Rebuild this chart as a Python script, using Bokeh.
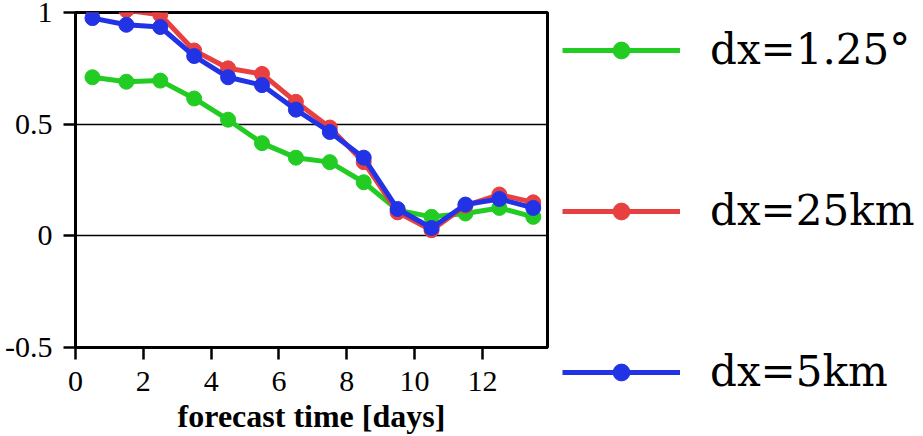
from bokeh.plotting import figure
from bokeh.layouts import row
from bokeh.models import Legend, LegendItem, FixedTicker, Range1d
from bokeh.embed import file_html
from bokeh.resources import INLINE

# data
days = [0.5, 1.5, 2.5, 3.5, 4.5, 5.5, 6.5, 7.5, 8.5, 9.5, 10.5, 11.5, 12.5, 13.5]
dx_125deg = [0.71, 0.69, 0.695, 0.615, 0.52, 0.415, 0.35, 0.33, 0.24, 0.115, 0.085, 0.10, 0.125, 0.085]
dx_25km = [1.02, 1.01, 0.99, 0.83, 0.75, 0.725, 0.60, 0.485, 0.33, 0.105, 0.025, 0.135, 0.185, 0.15]
dx_5km = [0.975, 0.945, 0.935, 0.805, 0.71, 0.675, 0.565, 0.465, 0.35, 0.12, 0.035, 0.14, 0.165, 0.125]
labels = ["dx=1.25°", "dx=25km", "dx=5km"]
colors = ["#22cc22", "#e84040", "#2233e6"]
x_ticks = [0, 2, 4, 6, 8, 10, 12]
y_ticks = [-0.5, 0, 0.5, 1]
y_tick_labels = {-0.5: "-0.5", 0: "0", 0.5: "0.5", 1: "1"}

p = figure(width=550, height=436, output_backend="svg", toolbar_location=None,
           x_range=Range1d(0, 13.92), y_range=Range1d(-0.5, 1.0),
           min_border_left=75, min_border_right=3, min_border_top=12, min_border_bottom=88)
p.frame_align = False

p.outline_line_color = "black"
p.outline_line_width = 3
p.background_fill_color = "white"
p.border_fill_color = "white"

p.xgrid.visible = False
p.ygrid.ticker = FixedTicker(ticks=[0, 0.5])
p.ygrid.grid_line_color = "black"
p.ygrid.grid_line_width = 1.5

font = "Liberation Serif"
for ax in (p.xaxis[0], p.yaxis[0]):
    ax.axis_line_width = 3
    ax.axis_line_color = "black"
    ax.major_tick_line_width = 2.5
    ax.major_tick_line_color = "black"
    ax.major_tick_out = 12
    ax.major_tick_in = 0
    ax.minor_tick_out = 0
    ax.minor_tick_in = 0
    ax.major_label_text_font = font
    ax.major_label_text_font_size = "30px"
    ax.major_label_text_color = "black"

p.xaxis.major_label_standoff = 12
p.yaxis.major_label_standoff = 11
p.xaxis.ticker = FixedTicker(ticks=x_ticks)
p.yaxis.ticker = FixedTicker(ticks=y_ticks)
p.yaxis.major_label_overrides = y_tick_labels
p.xaxis.axis_label = "forecast time [days]"
p.xaxis.axis_label_text_font = font
p.xaxis.axis_label_text_font_size = "32px"
p.xaxis.axis_label_text_font_style = "bold"
p.xaxis.axis_label_text_color = "black"
p.xaxis.axis_label_standoff = 4

for ys, col in zip([dx_125deg, dx_25km, dx_5km], colors):
    p.line(days, ys, line_color=col, line_width=5)
    p.scatter(days, ys, size=15, fill_color=col, line_color=col)

# legend panel (proxy renderers hold no visible data)
q = figure(width=373, height=436, output_backend="svg", toolbar_location=None,
           min_border=0, x_range=Range1d(0, 1), y_range=Range1d(0, 1))
q.frame_align = False
q.axis.visible = False
q.grid.visible = False
q.outline_line_color = None
q.background_fill_color = "white"
q.border_fill_color = "white"

nan = float("nan")
items = []
for lab, col in zip(labels, colors):
    l = q.line([nan], [nan], line_color=col, line_width=5)
    c = q.scatter([nan], [nan], size=15, fill_color=col, line_color=col)
    items.append(LegendItem(label=lab, renderers=[l, c]))

legend = Legend(items=items, location=(12, 40), margin=0, padding=0,
                glyph_width=118, glyph_height=42, label_height=42, spacing=112,
                label_standoff=30, label_text_font="DejaVu Serif",
                label_text_font_size="42px", label_text_color="black",
                border_line_alpha=0, background_fill_alpha=0)
q.add_layout(legend)

layout = row(p, q, spacing=0)
open("out.html", "w").write(file_html(layout, INLINE))
